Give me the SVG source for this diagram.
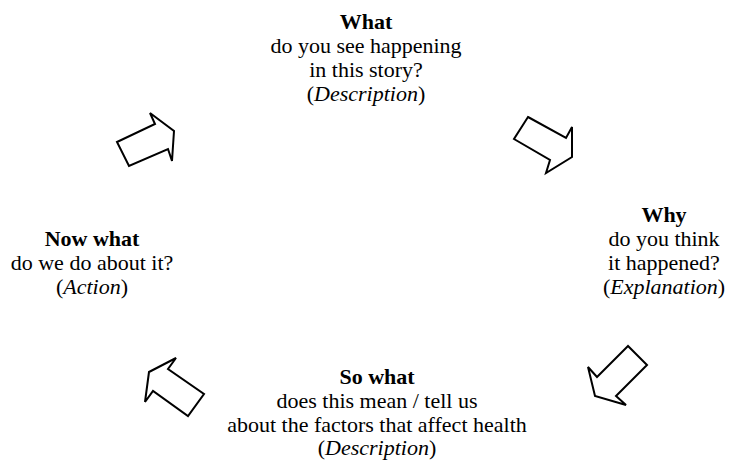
<svg xmlns="http://www.w3.org/2000/svg" width="735" height="460" viewBox="0 0 735 460" font-family="'Liberation Serif', 'DejaVu Serif', serif">
<style>
text{font-family:"Liberation Serif","Times New Roman",serif;font-size:22px;fill:#000;text-anchor:middle}
.b{font-weight:bold}
.i{font-style:italic}
.arrow{fill:#fff;stroke:#000;stroke-width:2;stroke-linejoin:miter}
</style>
<rect width="735" height="460" fill="#fff"/>
<g id="what">
<text x="366" y="29" class="b">What</text>
<text x="366" y="53">do you see happening</text>
<text x="366" y="77">in this story?</text>
<text x="366" y="101">(<tspan class="i">Description</tspan>)</text>
</g>
<g id="why">
<text x="664" y="222" class="b">Why</text>
<text x="664" y="246">do you think</text>
<text x="664" y="270">it happened?</text>
<text x="664" y="294">(<tspan class="i">Explanation</tspan>)</text>
</g>
<g id="sowhat">
<text x="377" y="384" class="b">So what</text>
<text x="377" y="408">does this mean / tell us</text>
<text x="377" y="432">about the factors that affect health</text>
<text x="377" y="455">(<tspan class="i">Description</tspan>)</text>
</g>
<g id="nowwhat">
<text x="92" y="246" class="b">Now what</text>
<text x="92" y="270">do we do about it?</text>
<text x="92" y="294">(<tspan class="i">Action</tspan>)</text>
</g>
<g id="connectors">
<polygon class="arrow" points="117,142 155,124 150,113 174,131 172,161 168,149 129,166"/>
<polygon class="arrow" points="528,117 566,138 572,127 572,157 546,173 550,160 514,139"/>
<polygon class="arrow" points="628,346 597,377 588,367 595,396 626,405 616,396 647,365"/>
<polygon class="arrow" points="149,372 176,358 168,369 204,394 188,416 153,391 145,402"/>
</g>
</svg>
